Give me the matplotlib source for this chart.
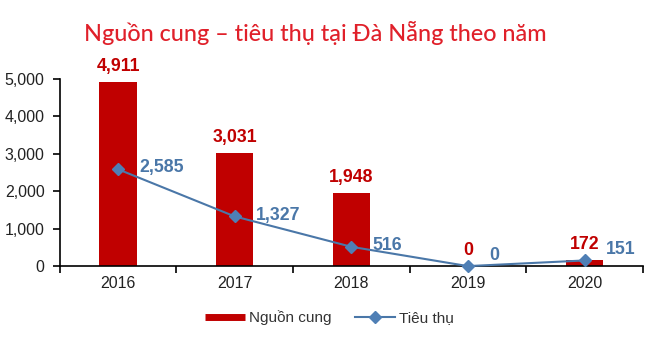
import matplotlib
matplotlib.use("Agg")
import matplotlib.pyplot as plt
import numpy as np
from matplotlib.ticker import FuncFormatter, FixedLocator
from matplotlib.lines import Line2D

years = ["2016", "2017", "2018", "2019", "2020"]
nguon_cung = [4911, 3031, 1948, 0, 172]
tieu_thu = [2585, 1327, 516, 0, 151]

bar_color = "#C00000"
line_color = "#4A77A8"
marker_color = "#4F7FB5"

fig = plt.figure(figsize=(6.5, 3.52), dpi=100)
ax = fig.add_axes([0.092, 0.244, 0.897, 0.532])
x = np.arange(len(years))
ax.bar(x, nguon_cung, width=0.32, color=bar_color, label="Nguồn cung", zorder=2)
ax.plot(x, tieu_thu, color=line_color, lw=1.5, marker="D", markersize=6,
        markerfacecolor=marker_color, markeredgecolor=marker_color, label="Tiêu thụ", zorder=3,
        clip_on=False)

ax.set_xlim(-0.5, len(years) - 0.5)
ax.set_ylim(0, 5000)
ax.set_yticks([0, 1000, 2000, 3000, 4000, 5000])
ax.yaxis.set_major_formatter(FuncFormatter(lambda v, p: f"{int(v):,}"))
ax.set_xticks(x)
ax.set_xticklabels(years)
ax.xaxis.set_minor_locator(FixedLocator(np.arange(-0.5, len(years), 1.0)))
ax.tick_params(axis="x", which="major", length=0, pad=7)
ax.tick_params(axis="x", which="minor", length=5, width=1.2, color="black")
ax.tick_params(axis="y", length=5, width=1.2, color="black", pad=6)
for lab in ax.get_xticklabels() + ax.get_yticklabels():
    lab.set_fontfamily("Liberation Sans")
    lab.set_fontsize(11.5)
    lab.set_color("#222222")
for s in ["top", "right"]:
    ax.spines[s].set_visible(False)
ax.spines["left"].set_linewidth(1.2)
ax.spines["bottom"].set_linewidth(1.2)

for xi, v in zip(x, nguon_cung):
    ax.annotate(f"{v:,}", (xi, v), xytext=(0, 5), textcoords="offset points",
                ha="center", va="bottom", color=bar_color, fontweight="bold",
                fontsize=12.8, family="Liberation Sans")
for xi, v in zip(x, tieu_thu):
    dy = 8 if v < 300 else 1
    ax.annotate(f"{v:,}", (xi, v), xytext=(15, dy), textcoords="offset points",
                ha="left", va="center", color=line_color, fontweight="bold",
                fontsize=12.8, family="Liberation Sans")

fig.text(0.485, 0.906, "Nguồn cung – tiêu thụ tại Đà Nẵng theo năm", ha="center", va="center",
         color="#E0202A", fontsize=16.8, family="Lato", fontweight="medium")

handles = [
    Line2D([], [], color=bar_color, lw=5, solid_capstyle="butt"),
    Line2D([], [], color=line_color, lw=1.5, marker="D", markersize=6,
           markerfacecolor=marker_color, markeredgecolor=marker_color),
]
leg = fig.legend(handles, ["Nguồn cung", "Tiêu thụ"], loc="center",
                 bbox_to_anchor=(0.507, 0.098), ncol=2, frameon=False,
                 prop={"family": "Liberation Sans", "size": 11}, handlelength=2.6,
                 columnspacing=1.5, handletextpad=0.3)
for t in leg.get_texts():
    t.set_color("#333333")

fig.savefig("out.png", dpi=100)
